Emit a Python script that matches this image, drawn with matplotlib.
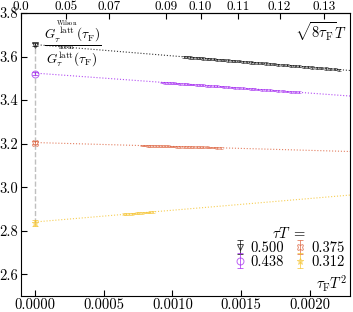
import matplotlib
matplotlib.use('Agg')
import matplotlib.pyplot as plt
import numpy as np

plt.rcParams['font.family'] = 'serif'
plt.rcParams['font.serif'] = ['cmr10']
plt.rcParams['mathtext.fontset'] = 'cm'
plt.rcParams['axes.formatter.use_mathtext'] = True

# tau*T values, colors, markers
tauT = ['0.500', '0.438', '0.375', '0.312']
colors = ['#000000', '#a020f0', '#dc5f3a', '#f5c22a']
markers = ['v', 'o', 'X', '*']

# continuum (x=0) values
y_cont = [3.655, 3.522, 3.205, 2.835]
err_cont = [0.006, 0.008, 0.008, 0.012]

# fit lines: intercept, slope in tau_F T^2
fit_icpt = [3.655, 3.524, 3.205, 2.840]
fit_slope = [-52.0, -46.0, -18.0, 54.0]

# flow radius sqrt(8 tau_F) T of the data points
s_500 = [0.093, 0.094, 0.095, 0.096, 0.097, 0.098, 0.099, 0.100, 0.101, 0.102,
         0.103, 0.104, 0.105, 0.106, 0.107, 0.108, 0.109, 0.110, 0.111, 0.112,
         0.113, 0.114, 0.115, 0.116, 0.117, 0.118, 0.119, 0.120, 0.121, 0.122,
         0.123, 0.124, 0.125, 0.126, 0.127, 0.128, 0.129, 0.130, 0.131, 0.132,
         0.133]
y_500 = [3.599, 3.598, 3.596, 3.595, 3.594, 3.593, 3.591, 3.590, 3.589, 3.587,
         3.586, 3.585, 3.583, 3.582, 3.581, 3.579, 3.578, 3.576, 3.575, 3.573,
         3.572, 3.571, 3.569, 3.568, 3.566, 3.565, 3.563, 3.561, 3.560, 3.558,
         3.557, 3.555, 3.553, 3.552, 3.550, 3.548, 3.547, 3.545, 3.543, 3.542,
         3.540]

s_438 = [0.086, 0.087, 0.088, 0.089, 0.090, 0.091, 0.092, 0.093, 0.094, 0.095,
         0.096, 0.097, 0.098, 0.099, 0.100, 0.101, 0.102, 0.103, 0.104, 0.105,
         0.106, 0.107, 0.108, 0.109, 0.110, 0.111, 0.112, 0.113, 0.114, 0.115,
         0.116, 0.117, 0.118, 0.119, 0.120, 0.121, 0.122, 0.123, 0.124]
y_438 = [3.481, 3.480, 3.479, 3.478, 3.477, 3.476, 3.475, 3.474, 3.473, 3.472,
         3.471, 3.470, 3.469, 3.468, 3.466, 3.465, 3.464, 3.463, 3.462, 3.461,
         3.459, 3.458, 3.457, 3.456, 3.454, 3.453, 3.452, 3.451, 3.449, 3.448,
         3.447, 3.445, 3.444, 3.443, 3.441, 3.440, 3.438, 3.437, 3.436]

s_375 = [0.079, 0.080, 0.081, 0.082, 0.083, 0.084, 0.085, 0.086, 0.087, 0.088,
         0.089, 0.090, 0.091, 0.092, 0.093, 0.094, 0.095, 0.096, 0.097, 0.098,
         0.099, 0.100, 0.101, 0.102, 0.103, 0.104]
y_375 = [3.191, 3.191, 3.190, 3.190, 3.190, 3.189, 3.189, 3.188, 3.188, 3.188,
         3.187, 3.187, 3.186, 3.186, 3.186, 3.185, 3.185, 3.184, 3.184, 3.183,
         3.183, 3.183, 3.182, 3.182, 3.181, 3.181]

s_312 = [0.072, 0.073, 0.074, 0.075, 0.076, 0.077, 0.078, 0.079, 0.080, 0.081,
         0.082, 0.083]
y_312 = [2.875, 2.876, 2.877, 2.878, 2.879, 2.880, 2.881, 2.882, 2.883, 2.884,
         2.885, 2.887]

s_all = [s_500, s_438, s_375, s_312]
y_all = [y_500, y_438, y_375, y_312]
err_band = [0.005, 0.004, 0.004, 0.004]

top_ticks = [0.0, 0.05, 0.07, 0.09, 0.10, 0.11, 0.12, 0.13]
top_labels = ['0.0', '0.05', '0.07', '0.09', '0.10', '0.11', '0.12', '0.13']

fs = 10.5
fig = plt.figure(figsize=(3.53, 3.12), dpi=100)
ax = fig.add_axes([0.0595, 0.0513, 0.932, 0.9070])
xlim = (-0.0001, 0.00229)

ax.plot([0, 0], [y_cont[3], y_cont[0]], ls='--', color='grey', alpha=0.5, lw=1.0, zorder=0)

xl = np.array([0.0, xlim[1]])
handles = []
for i in range(4):
    c = colors[i]
    ax.plot(xl, fit_icpt[i] + fit_slope[i] * xl, ls=':', color=c, lw=0.8, alpha=0.8, zorder=1)
    x = np.array(s_all[i]) ** 2 / 8
    y = np.array(y_all[i])
    ax.fill_between(x, y - err_band[i], y + err_band[i], color=c, alpha=0.3, lw=0, zorder=2)
    ax.errorbar(x, y, yerr=err_band[i], fmt='none', ecolor=c, elinewidth=0.5, capsize=1.2,
                capthick=0.5, alpha=0.7, zorder=3)
    h = ax.errorbar([0.0], [y_cont[i]], yerr=err_cont[i], fmt=markers[i], color=c,
                    mfc='none', ms=5, mew=0.7, elinewidth=0.7, capsize=2, capthick=0.7,
                    alpha=0.7, zorder=4, label=tauT[i])
    handles.append(h)

ax.set_xlim(*xlim)
ax.set_ylim(2.5, 3.8)
ax.set_xticks([0.0, 0.0005, 0.0010, 0.0015, 0.0020])
ax.set_xticklabels(['0.0000', '0.0005', '0.0010', '0.0015', '0.0020'])
ax.set_yticks([2.6, 2.8, 3.0, 3.2, 3.4, 3.6, 3.8])
ax.set_yticklabels(['2.6', '2.8', '3.0', '3.2', '3.4', '3.6', '3.8'])
ax.tick_params(direction='in', labelsize=fs, length=4, width=0.8, pad=2)

sec = ax.secondary_xaxis('top', functions=(lambda v: np.sqrt(8 * np.clip(v, 0, None)),
                                           lambda s: np.asarray(s) ** 2 / 8))
sec.set_xticks(top_ticks)
sec.set_xticklabels(top_labels)
sec.tick_params(direction='in', labelsize=9.5, length=4, width=0.8, pad=0)

ax.text(0.99, 0.975, r'$\sqrt{8\tau_\mathrm{F}}T$', transform=ax.transAxes, ha='right', va='top', fontsize=fs)
ax.text(0.99, 0.008, r'$\tau_\mathrm{F} T^2$', transform=ax.transAxes, ha='right', va='bottom', fontsize=fs)
ax.text(0.158, 0.89,
        r'$\dfrac{G_\tau^{\overset{\mathrm{Wilson}}{\mathrm{latt}}}(\tau_\mathrm{F})}'
        r'{G_\tau^{\overset{\mathrm{norm}}{\mathrm{latt}}}(\tau_\mathrm{F})}$',
        transform=ax.transAxes, ha='center', va='center', fontsize=9.5)

leg = ax.legend(handles=handles, title=r'$\tau T\ =$', ncol=2, loc='lower right',
                bbox_to_anchor=(1.015, 0.06), frameon=False, fontsize=fs, title_fontsize=fs,
                handletextpad=0.25, columnspacing=0.6, handlelength=1.0, labelspacing=0.0,
                borderpad=0.2)
leg._legend_box.align = 'center'

fig.savefig('out.png', dpi=100)
